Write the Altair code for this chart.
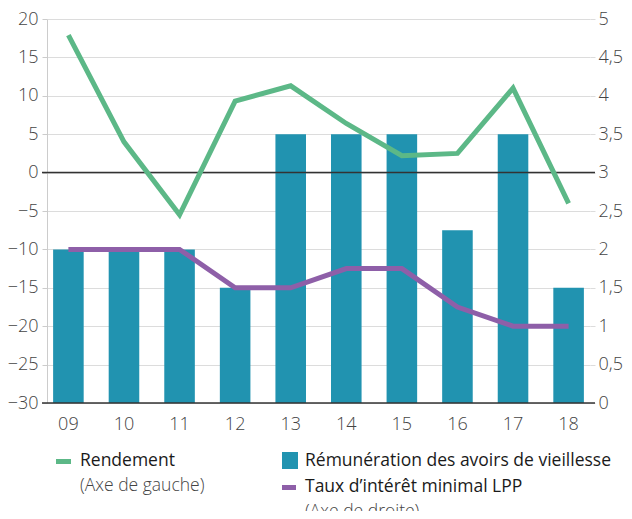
import altair as alt
import pandas as pd

years = ['09', '10', '11', '12', '13', '14', '15', '16', '17', '18']
rendement = [17.9, 4.0, -5.5, 9.3, 11.3, 6.4, 2.2, 2.5, 11.0, -4.0]
remuneration = [2, 2, 2, 1.5, 3.5, 3.5, 3.5, 2.25, 3.5, 1.5]
taux_lpp = [2, 2, 2, 1.5, 1.5, 1.75, 1.75, 1.25, 1, 1]
left_ticks = [-30, -25, -20, -15, -10, -5, 0, 5, 10, 15, 20]
right_ticks = [0, 0.5, 1, 1.5, 2, 2.5, 3, 3.5, 4, 4.5, 5]
baselines = [0, -30]
legend_labels = ['Rendement', '(Axe de gauche)',
                 'Rémunération des avoirs de vieillesse',
                 'Taux d\u2019intérêt minimal LPP', '(Axe de droite)']

GREEN = '#5cb887'
TEAL = '#2193b0'
PURPLE = '#8e5fa8'
FONT = 'Open Sans'
W, H = 543, 384

df = pd.DataFrame({'year': years, 'rendement': rendement,
                   'remuneration': remuneration, 'taux': taux_lpp})

x = alt.X('year:N', sort=years, title=None,
          scale=alt.Scale(paddingInner=0.45, paddingOuter=0.11),
          axis=alt.Axis(ticks=False, domain=False, labelAngle=0, labelPadding=12))

right_axis = alt.Axis(orient='right', values=right_ticks, tickCount=11,
                      labelExpr="replace(toString(datum.value), '.', ',')",
                      labelOverlap=False, labelFlush=False,
                      grid=False, domain=False, tickColor='#dcdcdc',
                      tickSize=5, labelPadding=3)
right_scale = alt.Scale(domain=[0, 5], nice=False)
left_axis = alt.Axis(orient='left', values=left_ticks, tickCount=11,
                     labelExpr="datum.value < 0 ? '\u2212' + abs(datum.value) : '' + datum.value",
                     labelOverlap=False, labelFlush=False,
                     grid=True, gridColor='#dcdcdc', domainColor='#cccccc',
                     tickColor='#cccccc', tickSize=5, labelPadding=4)
left_scale = alt.Scale(domain=[-30, 20], nice=False)

base = alt.Chart(df)

bars = base.mark_bar(color=TEAL).encode(
    x=x,
    y=alt.Y('remuneration:Q', title=None, scale=right_scale, axis=right_axis))
taux = base.mark_line(color=PURPLE, strokeWidth=5).encode(
    x=x, y=alt.Y('taux:Q', title=None, scale=right_scale, axis=right_axis))
right = alt.layer(bars, taux)

rend = base.mark_line(color=GREEN, strokeWidth=5).encode(
    x=x, y=alt.Y('rendement:Q', title=None, scale=left_scale, axis=left_axis))
rules = alt.Chart(pd.DataFrame({'v': baselines})).mark_rule(
    color='#333333', strokeWidth=1.5).encode(
    y=alt.Y('v:Q', title=None, scale=left_scale, axis=left_axis),
    x=alt.value(-5), x2=alt.value(W + 5))
left = alt.layer(rules, rend)


def sym(color, x0, x1, y0, y1):
    return alt.Chart(pd.DataFrame({'a': [0]})).mark_rect(color=color).encode(
        x=alt.value(x0), x2=alt.value(x1), y=alt.value(y0), y2=alt.value(y1))


def txt(label, x0, y0, weight, color):
    return alt.Chart(pd.DataFrame({'t': [label]})).mark_text(
        align='left', baseline='middle', font=FONT, fontSize=17.5,
        fontWeight=weight, color=color).encode(
        text='t:N', x=alt.value(x0), y=alt.value(y0))


legend = alt.layer(
    sym(GREEN, 9, 24, 440, 445),
    txt(legend_labels[0], 33, 442, 500, '#1a1a1a'),
    txt(legend_labels[1], 33, 467, 300, '#444444'),
    sym(TEAL, 235, 251, 433, 450),
    txt(legend_labels[2], 258, 442, 500, '#1a1a1a'),
    sym(PURPLE, 235, 249, 466, 471),
    txt(legend_labels[3], 258, 468, 500, '#1a1a1a'),
    txt(legend_labels[4], 258, 493, 300, '#444444'),
)

chart = alt.layer(right, left, legend).resolve_scale(y='independent').properties(
    width=W, height=H,
    padding={'left': 39, 'top': 11, 'right': 34, 'bottom': 108},
    autosize=alt.AutoSizeParams(type='none'),
).configure_view(stroke=None).configure_axis(
    labelFont=FONT, labelFontSize=18, labelColor='#444444', labelFontWeight=300)

chart.save('out.html', embed_options={'renderer': 'svg', 'actions': False})
